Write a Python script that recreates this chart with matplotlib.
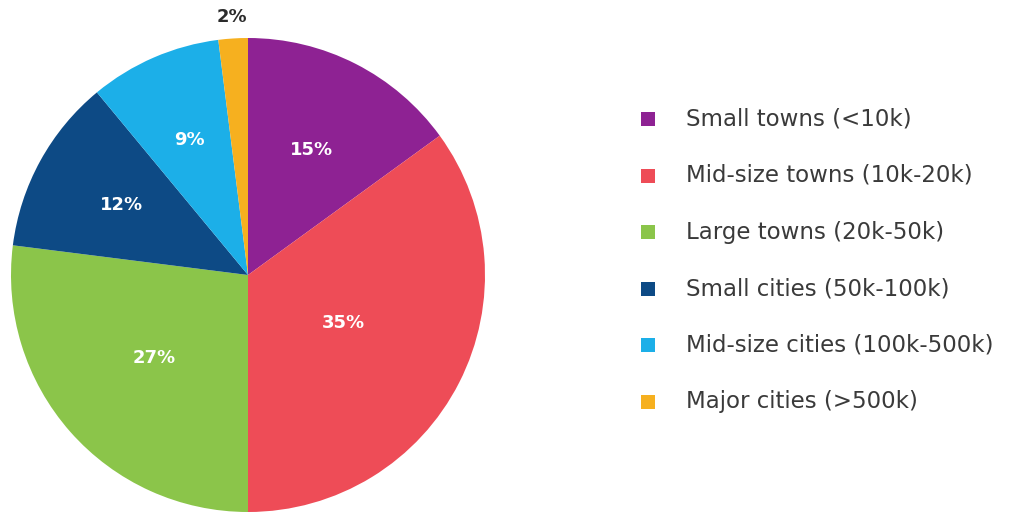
import numpy as np
import matplotlib
matplotlib.use("Agg")
import matplotlib.pyplot as plt
from matplotlib.patches import Rectangle

# settlement size shares, clockwise from 12 o'clock
categories = ["Small towns (<10k)", "Mid-size towns (10k-20k)", "Large towns (20k-50k)",
              "Small cities (50k-100k)", "Mid-size cities (100k-500k)", "Major cities (>500k)"]
shares = [15, 35, 27, 12, 9, 2]
colors = ["#8E2293", "#EE4C57", "#8BC54A", "#0D4A85", "#1CAFE8", "#F6B01F"]

# radial position of each percentage label (fraction of radius)
label_r = [0.59, 0.45, 0.53, 0.61, 0.62, 1.09]

fig = plt.figure(figsize=(10.2, 5.15), dpi=100)
fig.patch.set_facecolor("white")

W, H = 1020, 515
cx, cy, r = 248, 275, 237
ax = fig.add_axes([(cx - r) / W, (H - cy - r) / H, 2 * r / W, 2 * r / H])
wedges, _ = ax.pie(shares, colors=colors, startangle=90, counterclock=False,
                   radius=1, wedgeprops=dict(linewidth=0))
ax.set_xlim(-1, 1)
ax.set_ylim(-1, 1)
ax.set_aspect("equal")
ax.axis("off")

for w, val, lr in zip(wedges, shares, label_r):
    mid = np.deg2rad((w.theta1 + w.theta2) / 2)
    x, y = lr * np.cos(mid), lr * np.sin(mid)
    col = "white" if lr < 1 else "#2b2b2b"
    ax.text(x, y, f"{val}%", ha="center", va="center", color=col,
            fontsize=13, fontweight="bold", clip_on=False)

# legend drawn by hand in figure pixels
row0, step = 119, 56.5
for i, (lab, c) in enumerate(zip(categories, colors)):
    y = H - (row0 + i * step)
    fig.add_artist(Rectangle((641 / W, (y - 7) / H), 14 / W, 14 / H,
                             transform=fig.transFigure, color=c, lw=0))
    fig.text(686 / W, y / H, lab, ha="left", va="center", fontsize=16.5,
             color="#3a3a3a")

fig.savefig("out.png", dpi=100, facecolor="white")
